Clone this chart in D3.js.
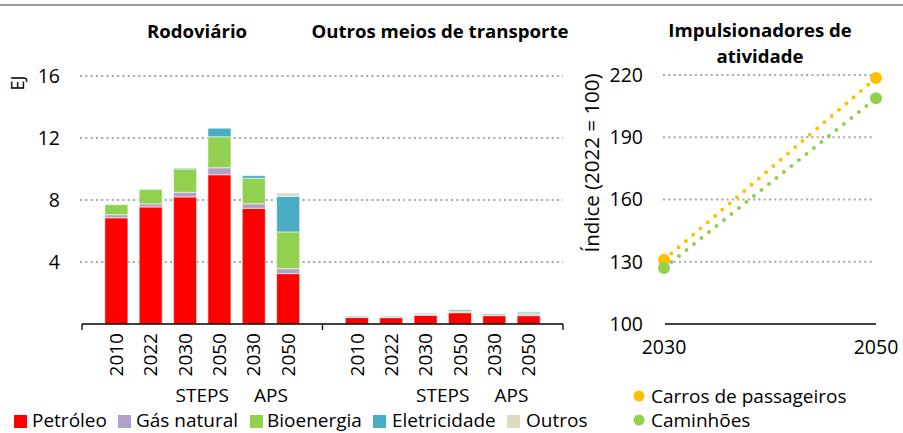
<!DOCTYPE html>
<html>
<head>
<meta charset="utf-8">
<script src="https://cdn.jsdelivr.net/npm/d3@7"></script>
<style>
body { margin: 0; background: #fff; }
svg { font-family: "Open Sans", sans-serif; }
</style>
</head>
<body>
<script>
const W = 903, H = 433;

// data
const years = ['2010', '2022', '2030', '2050', '2030', '2050'];
const scenarios = ['STEPS', 'APS'];
const fuels = ['Petróleo', 'Gás natural', 'Bioenergia', 'Eletricidade', 'Outros'];
const fuelColors = ['#ff0000', '#b1a0c7', '#92d050', '#4bacc6', '#ddd9c3'];
// rows = fuels, columns = years
const roadValues = [
  [6.85, 7.55, 8.2, 9.63, 7.46, 3.25],
  [0.2, 0.2, 0.3, 0.45, 0.3, 0.32],
  [0.65, 0.93, 1.5, 2.0, 1.64, 2.37],
  [0.0, 0.02, 0.05, 0.55, 0.17, 2.3],
  [0.0, 0.0, 0.0, 0.0, 0.0, 0.21]
];
const otherValues = [
  [0.42, 0.41, 0.56, 0.73, 0.54, 0.54],
  [0.04, 0.03, 0.06, 0.03, 0.04, 0.05],
  [0.0, 0.02, 0.02, 0.08, 0.0, 0.08],
  [0.06, 0.04, 0.05, 0.08, 0.07, 0.1],
  [0.0, 0.0, 0.0, 0.0, 0.0, 0.05]
];
const ejTicks = [4, 8, 12, 16];
const driverYears = [2030, 2050];
const carsIndex = [131, 218.5];
const trucksIndex = [127, 208.8];
const indexTicks = [130, 160, 190, 220];
const driverNames = ['Carros de passageiros', 'Caminhões'];
const driverColors = ['#ffc000', '#92d050'];

const svg = d3.select('body').append('svg').attr('width', W).attr('height', H)

svg.append('line').attr('x1', 0).attr('x2', W).attr('y1', 5).attr('y2', 5)
  .attr('stroke', '#9a9a9a').attr('stroke-width', 2)

// ---- stacked bars ----
const slots = d3.range(15)
const x = d3.scalePoint().domain(slots).range([82, 563])
const y = d3.scaleLinear().domain([0, 16]).range([324, 76])
const bw = 23

svg.selectAll('.grid').data(ejTicks).enter().append('line')
  .attr('x1', 80).attr('x2', 563)
  .attr('y1', d => y(d)).attr('y2', d => y(d))
  .attr('stroke', '#a6a6a6').attr('stroke-width', 2).attr('stroke-dasharray', '2,3.3')

svg.selectAll('.ytick').data(ejTicks).enter().append('text')
  .attr('x', 60).attr('y', d => y(d)).attr('dy', '0.35em')
  .attr('text-anchor', 'end').style('font-size', '19.5px').text(d => d)

svg.append('text').attr('transform', 'translate(24,83) rotate(-90)')
  .attr('text-anchor', 'middle').style('font-size', '18px').text('EJ')

function drawPanel(values, offset, title, titleX) {
  const stack = d3.stack().keys(d3.range(fuels.length)).value((d, k) => values[k][d])
  const series = stack(d3.range(years.length))
  svg.append('g').selectAll('g').data(series).enter().append('g')
    .attr('fill', (s, i) => fuelColors[i])
    .selectAll('rect').data(s => s.filter(d => d[1] - d[0] > 0)).enter().append('rect')
    .attr('x', d => x(offset + d.data) - bw / 2)
    .attr('width', bw)
    .attr('y', d => y(d[1]))
    .attr('height', d => y(d[0]) - y(d[1]))
    .attr('stroke', '#ffffff').attr('stroke-opacity', 0.55).attr('stroke-width', 1)

  svg.selectAll(null).data(years).enter().append('text')
    .attr('transform', (d, i) => `translate(${x(offset + i)},333) rotate(-90)`)
    .attr('dy', '0.35em').attr('text-anchor', 'end').style('font-size', '19px').text(d => d)

  scenarios.forEach((s, j) => {
    const cx = (x(offset + 2 + j * 2) + x(offset + 3 + j * 2)) / 2
    svg.append('text').attr('x', cx).attr('y', 402).attr('text-anchor', 'middle')
      .style('font-size', '19px').text(s)
  })

  svg.append('text').attr('x', titleX).attr('y', 38).attr('text-anchor', 'middle')
    .style('font-size', '18.6px').style('font-weight', 'bold').text(title)
}

drawPanel(roadValues, 1, 'Rodoviário', 197)
drawPanel(otherValues, 8, 'Outros meios de transporte', 440)

svg.append('line').attr('x1', 82).attr('x2', 563).attr('y1', 324).attr('y2', 324)
  .attr('stroke', '#000').attr('stroke-width', 1.3)
svg.selectAll('.xt').data([0, 7, 14]).enter().append('line')
  .attr('x1', d => x(d)).attr('x2', d => x(d)).attr('y1', 324).attr('y2', 330)
  .attr('stroke', '#000').attr('stroke-width', 1.3)

// bottom legend
const legSq = [14, 118, 250, 373, 507]
const legTx = [32, 136, 267, 392, 526]
fuels.forEach((f, i) => {
  svg.append('rect').attr('x', legSq[i]).attr('y', 415).attr('width', 13).attr('height', 13)
    .attr('fill', fuelColors[i])
  svg.append('text').attr('x', legTx[i]).attr('y', 427).style('font-size', '19px').text(f)
})

// ---- activity drivers ----
const x2 = d3.scaleLinear().domain([2030, 2050]).range([664, 876])
const y2 = d3.scaleLinear().domain([100, 220]).range([324, 75])

svg.selectAll('.grid2').data(indexTicks).enter().append('line')
  .attr('x1', 663).attr('x2', 874)
  .attr('y1', d => y2(d)).attr('y2', d => y2(d))
  .attr('stroke', '#a6a6a6').attr('stroke-width', 2).attr('stroke-dasharray', '2,3.3')

svg.selectAll('.ytick2').data([100].concat(indexTicks)).enter().append('text')
  .attr('x', 643).attr('y', d => y2(d)).attr('dy', '0.35em')
  .attr('text-anchor', 'end').style('font-size', '19.5px').text(d => d)

svg.append('line').attr('x1', 665).attr('x2', 876).attr('y1', y2(100)).attr('y2', y2(100))
  .attr('stroke', '#000').attr('stroke-width', 1.3)

svg.selectAll('.xtick2').data(driverYears).enter().append('text')
  .attr('x', d => x2(d)).attr('y', 354).attr('text-anchor', 'middle')
  .style('font-size', '19.5px').text(d => d)

svg.append('text').attr('transform', 'translate(599,163) rotate(-90)')
  .attr('text-anchor', 'middle').style('font-size', '20.5px').text('Índice (2022 = 100)')

svg.append('text').attr('x', 760).attr('y', 37).attr('text-anchor', 'middle')
  .style('font-size', '18.6px').style('font-weight', 'bold').text('Impulsionadores de')
svg.append('text').attr('x', 760).attr('y', 63).attr('text-anchor', 'middle')
  .style('font-size', '18.6px').style('font-weight', 'bold').text('atividade')

const line = d3.line().x(d => x2(d[0])).y(d => y2(d[1]))
;[carsIndex, trucksIndex].forEach((vals, i) => {
  const pts = driverYears.map((yr, k) => [yr, vals[k]])
  svg.append('path').attr('d', line(pts)).attr('fill', 'none')
    .attr('stroke', driverColors[i]).attr('stroke-width', 4)
    .attr('stroke-linecap', 'round').attr('stroke-dasharray', '0,9.6')
  svg.selectAll(null).data(pts).enter().append('circle')
    .attr('cx', d => x2(d[0])).attr('cy', d => y2(d[1])).attr('r', 6)
    .attr('fill', driverColors[i])
})

driverNames.forEach((n, i) => {
  const ly = 396 + i * 24
  svg.append('circle').attr('cx', 639).attr('cy', ly).attr('r', 5.5).attr('fill', driverColors[i])
  svg.append('text').attr('x', 651).attr('y', ly).attr('dy', '0.35em')
    .style('font-size', '19px').text(n)
})
</script>
</body>
</html>
